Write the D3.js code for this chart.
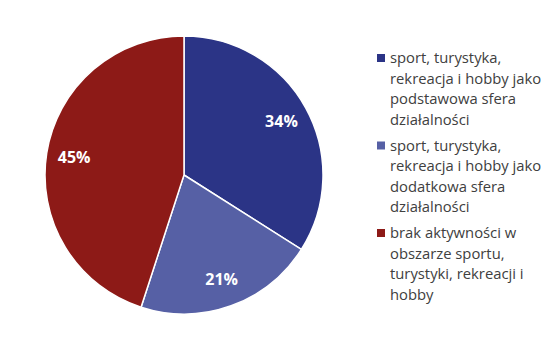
<!DOCTYPE html>
<html>
<head>
<meta charset="utf-8">
<script src="https://cdn.jsdelivr.net/npm/d3@7"></script>
<style>
  body { margin: 0; background: #fff; }
  svg { display: block; }
</style>
</head>
<body>
<svg id="chart" width="550" height="349"></svg>
<script>
// dane wykresu
const categories = [
  "sport, turystyka, rekreacja i hobby jako podstawowa sfera działalności",
  "sport, turystyka, rekreacja i hobby jako dodatkowa sfera działalności",
  "brak aktywności w obszarze sportu, turystyki, rekreacji i hobby"
];
const values = [34, 21, 45];
const colors = ["#2b3486", "#5660a5", "#8d1a17"];
// podział legendy na wiersze
const legendLines = [
  ["sport, turystyka,", "rekreacja i hobby jako", "podstawowa sfera", "działalności"],
  ["sport, turystyka,", "rekreacja i hobby jako", "dodatkowa sfera", "działalności"],
  ["brak aktywności w", "obszarze sportu,", "turystyki, rekreacji i", "hobby"]
];

const svg = d3.select("#chart");
const cx = 184, cy = 175, r = 139;

const pie = d3.pie().sort(null).value(d => d.value);
const arcs = pie(values.map((v, i) => ({ value: v, i: i })));

const arc = d3.arc().innerRadius(0).outerRadius(r);
const labelArc = d3.arc().innerRadius(r * 0.8).outerRadius(r * 0.8);

const g = svg.append("g").attr("transform", `translate(${cx},${cy})`);

// wycinki
g.selectAll("path")
  .data(arcs)
  .enter()
  .append("path")
  .attr("d", arc)
  .attr("fill", d => colors[d.data.i])
  .attr("stroke", "#fff")
  .attr("stroke-width", 1.5);

// etykiety procentowe
g.selectAll("text.lbl")
  .data(arcs)
  .enter()
  .append("text")
  .attr("class", "lbl")
  .attr("transform", d => `translate(${labelArc.centroid(d)})`)
  .attr("text-anchor", "middle")
  .attr("dy", "0.35em")
  .attr("fill", "#fff")
  .style("font-family", "'Open Sans', sans-serif")
  .style("font-weight", "bold")
  .style("font-size", "16px")
  .text(d => d.data.value + "%");

// legenda
const lx = 381, ly0 = 58, lineH = 20.5, gap = 87.5;
const leg = svg.append("g");
legendLines.forEach((lines, i) => {
  const y = ly0 + i * gap;
  leg.append("rect")
    .attr("x", lx - 4)
    .attr("y", y - 4)
    .attr("width", 8)
    .attr("height", 8)
    .attr("fill", colors[i]);
  const t = leg.append("text")
    .attr("fill", "#404040")
    .style("font-family", "'Open Sans', sans-serif")
    .style("font-size", "14.8px");
  lines.forEach((s, j) => {
    t.append("tspan")
      .attr("x", lx + 9)
      .attr("y", y + j * lineH)
      .attr("dy", "0.35em")
      .text(s);
  });
});
</script>
</body>
</html>
